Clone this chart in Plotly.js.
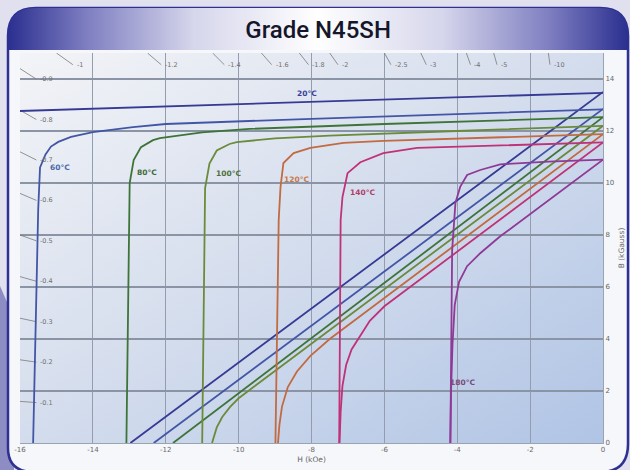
<!DOCTYPE html>
<html><head><meta charset="utf-8">
<script src="https://cdn.plot.ly/plotly-3.0.1.min.js"></script>
<style>html,body{margin:0;padding:0;background:#e1e1ef}#chart{width:630px;height:470px}</style>
</head><body><div id="chart"></div>
<script>
// ---- data ----
const temps = ['20°C','60°C','80°C','100°C','120°C','140°C','180°C'];

// intrinsic (J) curves: H in kOe, B in kGauss
const hJ20  = [-16, -12, -8, -4, 0];
const j20   = [12.77, 12.95, 13.12, 13.3, 13.47];
const hJ60  = [-15.64, -15.56, -15.5, -15.45, -15.3, -15.15, -14.95, -14.6, -14.0, -12.9, -12.0, -8, -4, 0];
const j60   = [0, 5.5, 9.0, 10.6, 11.1, 11.4, 11.58, 11.77, 11.96, 12.15, 12.27, 12.47, 12.66, 12.83];
const hJ80  = [-13.08, -13.03, -12.99, -12.88, -12.68, -12.35, -12.16, -11.0, -9.7, -6, -3, 0];
const j80   = [0, 6.0, 10.0, 10.88, 11.38, 11.65, 11.73, 11.95, 12.08, 12.27, 12.4, 12.53];
const hJ100 = [-11.0, -10.96, -10.92, -10.8, -10.6, -10.25, -10.05, -9.0, -7.5, -4, 0];
const j100  = [0, 6.0, 9.8, 10.75, 11.25, 11.5, 11.57, 11.72, 11.82, 12.0, 12.2];
const hJ120 = [-8.99, -8.94, -8.9, -8.85, -8.77, -8.49, -8.03, -7.12, -6.03, -3, 0];
const j120  = [0, 5.0, 8.58, 9.85, 10.77, 11.15, 11.35, 11.54, 11.62, 11.75, 11.88];
const hJ140 = [-7.24, -7.22, -7.2, -7.15, -7.01, -6.66, -6.03, -5.1, -3.29, 0];
const j140  = [0, 5.0, 8.58, 9.46, 10.38, 10.8, 11.15, 11.35, 11.42, 11.56];
const hJ180 = [-4.19, -4.17, -4.14, -4.05, -3.92, -3.73, -3.37, -2.82, -1.5, 0];
const j180  = [0, 4.0, 7.42, 9.23, 9.85, 10.31, 10.5, 10.72, 10.82, 10.9];

// normal (B) curves
const hB20  = [-12.97, 0];
const b20   = [0, 13.5];
const hB60  = [-12.33, 0];
const b60   = [0, 12.85];
const hB80  = [-11.8, 0];
const b80   = [0, 12.53];
const hB100 = [-10.73, -10.6, -10.45, -10.24, -10.0, -9.5, 0];
const b100  = [0, 0.6, 1.0, 1.38, 1.72, 2.25, 12.2];
const hB120 = [-8.92, -8.88, -8.81, -8.65, -8.4, -8.03, -7.5, 0];
const b120  = [0, 0.7, 1.4, 2.15, 2.75, 3.35, 4.0, 11.88];
const hB140 = [-7.23, -7.2, -7.15, -7.05, -6.9, -6.66, -6.4, -6.0, 0];
const b140  = [0, 1.2, 2.2, 3.0, 3.6, 4.14, 4.7, 5.26, 11.56];
const hB180 = [-4.19, -4.17, -4.13, -4.07, -3.95, -3.73, -3.37, -2.82, 0];
const b180  = [0, 2.0, 3.8, 5.3, 6.2, 6.8, 7.3, 7.95, 10.9];

// temperature label anchor points (data coords)
const labelH = [-8.12, -14.9, -12.52, -10.29, -8.4, -6.61, -3.85];
const labelB = [13.46, 10.58, 10.42, 10.38, 10.12, 9.65, 2.31];

// permeance coefficient markers
const pcLeft = [0.9, 0.8, 0.7, 0.6, 0.5, 0.4, 0.3, 0.2, 0.1];
const pcLeftText = ['-0.9','-0.8','-0.7','-0.6','-0.5','-0.4','-0.3','-0.2','-0.1'];
const pcTop = [1, 1.2, 1.4, 1.6, 1.8, 2, 2.5, 3, 4, 5, 10];
const pcTopText = ['-1','-1.2','-1.4','-1.6','-1.8','-2','-2.5','-3','-4','-5','-10'];

const xTickVals = [-16,-14,-12,-10,-8,-6,-4,-2,0];
const xTickText = ['-16','-14','-12','-10','-8','-6','-4','-2','0'];
const yTickVals = [0,2,4,6,8,10,12,14];
const yTickText = ['0','2','4','6','8','10','12','14'];

// ---- styles ----
const lineColors  = ['#363a94','#4356a6','#3e7438','#6b8b3a','#c26a40','#c03278','#8e3a96'];
const labelColors = ['#3a3f9a','#4a68a8','#3f6a3a','#4f7040','#c87848','#b0406a','#7a4a7a'];

const intrinsic = [[hJ20,j20],[hJ60,j60],[hJ80,j80],[hJ100,j100],[hJ120,j120],[hJ140,j140],[hJ180,j180]];
const normal    = [[hB20,b20],[hB60,b60],[hB80,b80],[hB100,b100],[hB120,b120],[hB140,b140],[hB180,b180]];

const traces = [];
// permeance stubs
const px = [], py = [];
pcLeft.forEach(p => { px.push(-16, -15.55, null); py.push(16*p, 15.55*p, null); });
pcTop.forEach(p => { px.push(-15/p, -14.55/p, null); py.push(15, 14.55, null); });
traces.push({x:px, y:py, mode:'lines', line:{color:'#7a7a7a', width:0.8}, hoverinfo:'skip'});

temps.forEach((t,i) => {
  traces.push({x:normal[i][0], y:normal[i][1], mode:'lines', name:t+' B', line:{color:lineColors[i], width:1.8}});
  traces.push({x:intrinsic[i][0], y:intrinsic[i][1], mode:'lines', name:t+' J', line:{color:lineColors[i], width:1.8}});
});

const annotations = [];
temps.forEach((t,i) => annotations.push({x:labelH[i], y:labelB[i], text:t, showarrow:false, xanchor:'center', yanchor:'middle',
  font:{family:'DejaVu Sans', size:7.5, color:labelColors[i], weight:'bold'}}));
pcLeft.forEach((p,i) => annotations.push({x:-15.55, y:15.55*p, text:pcLeftText[i], showarrow:false, xanchor:'left', yanchor:'middle', xshift:2,
  font:{family:'DejaVu Sans', size:6.5, color:'#707070'}}));
pcTop.forEach((p,i) => annotations.push({x:-14.55/p, y:14.55, text:pcTopText[i], showarrow:false, xanchor:'left', yanchor:'middle', xshift:2, yshift:0,
  font:{family:'DejaVu Sans', size:6.5, color:'#707070'}}));

// ---- decorative background (frame, title band, plot gradient) ----
const svg = "<svg xmlns='http://www.w3.org/2000/svg' width='630' height='470' viewBox='0 0 630 470'>" +
 "<defs>" +
 "<linearGradient id='tb' x1='0' x2='1' y1='0' y2='0'>" +
 "<stop offset='0' stop-color='#2b2f8f'/><stop offset='0.13' stop-color='#8080c2'/><stop offset='0.3' stop-color='#d6d6ec'/>" +
 "<stop offset='0.5' stop-color='#ffffff'/><stop offset='0.7' stop-color='#d6d6ec'/><stop offset='0.87' stop-color='#8080c2'/><stop offset='1' stop-color='#2b2f8f'/>" +
 "</linearGradient>" +
 "<linearGradient id='pg' x1='0' y1='0' x2='1' y2='1'>" +
 "<stop offset='0' stop-color='#f3f4f7'/><stop offset='0.45' stop-color='#d7dfee'/><stop offset='1' stop-color='#b0c4e5'/>" +
 "</linearGradient>" +
 "</defs>" +
 "<rect width='630' height='470' fill='#e0e0ee'/>" +
 "<path d='M0,286 L14,318 L14,470 L0,470 Z' fill='#8d8dc4'/>" +
 "<path d='M8,448 L8,36 Q8,8 36,8 L600,8 Q628,8 628,36 L628,444 Q628,472 600,472 L34,472 Q8,472 8,448 Z' fill='#f6f7fb' stroke='#2e3192' stroke-width='2.5'/>" +
 "<path d='M8,50 L8,36 Q8,8 36,8 L600,8 Q628,8 628,36 L628,50 Z' fill='url(#tb)'/>" +
 "<rect x='20' y='53' width='583' height='390' fill='url(#pg)'/>" +
 "</svg>";
const bgSrc = 'data:image/svg+xml;charset=utf-8,' + encodeURIComponent(svg);

const layout = {
  width:630, height:470,
  margin:{l:20, r:27, t:53, b:27, pad:0},
  paper_bgcolor:'rgba(0,0,0,0)', plot_bgcolor:'rgba(0,0,0,0)',
  showlegend:false,
  title:{text:'Grade N45SH', font:{family:'Roboto, DejaVu Sans Condensed', size:24, color:'#16162a', weight:500},
         x:0.505, xref:'container', xanchor:'center', y:0.936, yref:'container', yanchor:'middle'},
  xaxis:{range:[-16,0], tickmode:'array', tickvals:xTickVals, ticktext:xTickText, showgrid:true, gridcolor:'#939dae', gridwidth:1.2,
         zeroline:false, showline:true, linecolor:'#9aa3b0', linewidth:1, ticks:'',
         tickfont:{family:'DejaVu Sans', size:7, color:'#666666'},
         title:{text:'H (kOe)', font:{family:'DejaVu Sans', size:7.5, color:'#666666'}, standoff:3}},
  yaxis:{range:[0,15], side:'right', tickmode:'array', tickvals:yTickVals, ticktext:yTickText, showgrid:true, gridcolor:'#8a94a4', gridwidth:1.6,
         zeroline:false, showline:true, linecolor:'#9aa3b0', linewidth:1, ticks:'',
         tickfont:{family:'DejaVu Sans', size:7, color:'#666666'},
         title:{text:'B (kGauss)', font:{family:'DejaVu Sans', size:7.5, color:'#666666'}, standoff:4}},
  images:[{source:bgSrc, xref:'paper', yref:'paper', x:-20/583, y:1+53/390, sizex:630/583, sizey:470/390,
           xanchor:'left', yanchor:'top', sizing:'stretch', layer:'below'}],
  annotations:annotations
};

Plotly.newPlot('chart', traces, layout, {displayModeBar:false, staticPlot:true});
</script></body></html>
